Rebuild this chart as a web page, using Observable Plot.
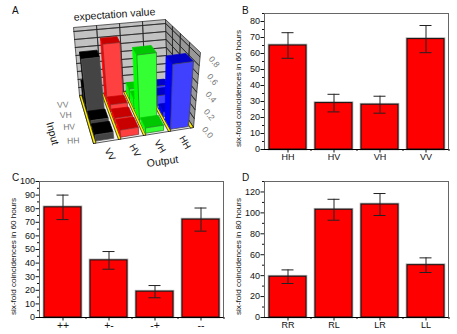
<!DOCTYPE html>
<html><head><meta charset="utf-8">
<script src="https://cdn.jsdelivr.net/npm/d3@7"></script>
<script src="https://cdn.jsdelivr.net/npm/@observablehq/plot@0.6"></script>
<style>
html,body{margin:0;padding:0;background:#fff;width:457px;height:334px;overflow:hidden}
#root{position:relative;width:457px;height:334px}
#root svg{position:absolute;overflow:visible;background:transparent}
.pl{position:absolute;font:10px "Liberation Sans",sans-serif;color:#111}
</style></head><body><div id="root"></div>
<script>
// Bar panels
const basisCats = ["HH","HV","VH","VV"];
const basisVals = [65,29,28,69];
const basisErr = [8,5.5,5.3,8.5];
const diagCats = ["++","+-","-+","--"];
const diagVals = [81,42,19,72];
const diagErr = [9,6.5,4.5,8.5];
const circCats = ["RR","RL","LR","LL"];
const circVals = [39,103,108,50];
const circErr = [6.5,10,10.5,7];
const yLabel60 = "six-fold coincidences in 60 hours";
const yLabel80 = "six-fold coincidences in 80 hours";
// 3D panel
const outputs = ["VV","HV","VH","HH"];
const inputs = ["HH","HV","VH","VV"];
const matrixVV = [0.07,0.07,0.66,0.2];
const matrixHV = [0.08,0.06,0.08,0.7];
const matrixVH = [0.06,0.76,0.12,0.12];
const matrixHH = [0.74,0.05,0.12,0.12];
const zTicks = [0,0.2,0.4,0.6,0.8];
const zGrid = [0.1,0.2,0.3,0.4,0.5,0.6,0.7,0.8];

const root = document.getElementById("root");
const font = '"Liberation Sans",sans-serif';

function barPanel({left,top,h,mt,mb,cats,vals,errs,ymax,major,minor,label,dyLabel,xfont}){
  const rows = cats.map((c,i)=>({c,v:vals[i],lo:vals[i]-errs[i],hi:vals[i]+errs[i]}));
  const majors = d3.range(0,ymax+1e-6,major), minors = d3.range(0,ymax+1e-6,minor).filter(v=>!majors.includes(v));
  const p = Plot.plot({
    width:232,height:h,marginLeft:39,marginRight:9,marginTop:mt,marginBottom:mb,
    style:{fontFamily:font,fontSize:"9px",background:"transparent",color:"#111"},
    x:{domain:cats,paddingInner:0.2,paddingOuter:0.1,axis:null},
    y:{domain:[0,ymax],axis:null},
    marks:[
      Plot.frame({stroke:"#666",strokeWidth:1}),
      Plot.barY(rows,{x:"c",y:"v",fill:"none",stroke:"#aaa",strokeWidth:2.6}),
      Plot.barY(rows,{x:"c",y:"v",fill:"#fe0000",stroke:"#111",strokeWidth:1}),
      Plot.ruleX(rows,{x:"c",y1:"lo",y2:"hi",stroke:"#222",strokeWidth:1}),
      Plot.tickY(rows,{x:"c",y:"lo",stroke:"#222",insetLeft:12.5,insetRight:12.5}),
      Plot.tickY(rows,{x:"c",y:"hi",stroke:"#222",insetLeft:12.5,insetRight:12.5}),
      Plot.axisY({ticks:majors,tickSize:3.5,tickPadding:1,label:null,fontSize:9}),
      Plot.axisY({ticks:minors,tickSize:2,text:null,label:null}),
      Plot.axisX({tickSize:3.5,tickPadding:0.5,label:null,fontSize:xfont}),
      Plot.axisX({tickSize:2,dx:23,text:null,label:null}),
      Plot.ruleX([0],{frameAnchor:"left",stroke:"#000"}),
      Plot.ruleY([0],{stroke:"#000"}),
      Plot.text([label],{frameAnchor:"left",textAnchor:"middle",rotate:-90,dx:-26,dy:dyLabel,fontSize:8.1,fill:"#111"})
    ]
  });
  p.style.left=left+"px"; p.style.top=top+"px";
  root.appendChild(p);
}
barPanel({left:225,top:0,h:165,mt:13,mb:16,cats:basisCats,vals:basisVals,errs:basisErr,ymax:85,major:10,minor:5,label:yLabel60,dyLabel:7,xfont:9});
barPanel({left:0,top:165,h:169,mt:16,mb:17,cats:diagCats,vals:diagVals,errs:diagErr,ymax:100,major:10,minor:5,label:yLabel60,dyLabel:7,xfont:10.5});
barPanel({left:225,top:165,h:169,mt:16,mb:17,cats:circCats,vals:circVals,errs:circErr,ymax:130,major:20,minor:10,label:yLabel80,dyLabel:7,xfont:9});

// projection parameters: pixel frame of the 3D box
const fl0=[93,143],fr0=[193,127],bl0=[79,95],br0=[167,87];
const fl1=[80,68],fr1=[200,52],bl1=[73,27],br1=[165,19];
const zMax=0.85, persp=1.35;
const lerp=(a,b,t)=>[a[0]+(b[0]-a[0])*t,a[1]+(b[1]-a[1])*t];
function proj(u,v,val){
  const vp=v*persp/(1+(persp-1)*v), w=val/zMax;
  const a=lerp(lerp(fl0,fr0,u),lerp(bl0,br0,u),vp);
  const b=lerp(lerp(fl1,fr1,u),lerp(bl1,br1,u),vp);
  return lerp(a,b,w);
}
const polys=[]; let pid=0;
function poly(pts,fill,stroke){
  const id=pid++;
  for(const q of [...pts,pts[0]]){const [x,y]=proj(...q);polys.push({id,x,y,fill,stroke})}
}
// walls
poly([[0,1,0],[1,1,0],[1,1,zMax],[0,1,zMax]],"#c2c2c2","#222");
poly([[1,1,0],[1,0,0],[1,0,zMax],[1,1,zMax]],"#989898","#222");
for(const z of zGrid){
  poly([[0,1,z],[1,1,z]],"none","#222");
  poly([[1,1,z],[1,0,z]],"none","#222");
}
for(const i of [1,2,3]) poly([[i/4,1,0],[i/4,1,zMax]],"none","#222");
for(const j of [1,2,3]) poly([[1,j/4,0],[1,j/4,zMax]],"none","#222");
// floor: pale base with yellow strips along the column boundaries
poly([[0,0,0],[1,0,0],[1,1,0],[0,1,0]],"#f4f4f4","#111");
for(const [a,b] of [[0,.1],[1,1.1],[2,2.1],[3,3.1],[3.88,4]]) poly([[a/4,0,0],[b/4,0,0],[b/4,1,0],[a/4,1,0]],"#ffee00","#111");
// bars
const matrix=[matrixVV,matrixHV,matrixVH,matrixHH];
const cols=[
 {front:"#444444",top:"#000000",side:"#000000",edge:"#555"},
 {front:"#ff4040",top:"#c80000",side:"#ff0000",edge:"#8a2a2a"},
 {front:"#33ff33",top:"#00c800",side:"#00ff00",edge:"#2a7a2a"},
 {front:"#4040ff",top:"#0000c8",side:"#0000ff",edge:"#444"}];
for(let j=3;j>=0;j--) for(let i=3;i>=0;i--){
  const h=matrix[i][j],c=cols[i];
  const u0=(i+.12)/4,u1=(i+.84)/4,v0=(j+.12)/4,v1=(j+.88)/4;
  poly([[u0,v1,0],[u0,v0,0],[u0,v0,h],[u0,v1,h]],c.side,c.side);
  poly([[u0,v0,h],[u1,v0,h],[u1,v1,h],[u0,v1,h]],c.top,c.top);
  poly([[u0,v0,0],[u1,v0,0],[u1,v0,h],[u0,v0,h]],c.front,c.edge);
}
const zLabels=zTicks.map(z=>{const [x,y]=proj(1,0,z);return{t:z.toFixed(1),x:x+14,y:y+5}});
const outLabels=outputs.map((t,i)=>{const [x,y]=proj((i+.5)/4,0,0);return{t,x:x+4,y:y+13}});
const inLabels=inputs.map((t,j)=>{const [x,y]=proj(0,(j+.5)/4,0);return{t,x:x-18,y:y+5}});
const W=230,H=170;
const pA=Plot.plot({
  width:W,height:H,margin:0,
  style:{fontFamily:font,fontSize:"10px",background:"transparent"},
  x:{type:"linear",domain:[0,W],range:[0,W],axis:null},
  y:{type:"linear",domain:[0,H],range:[0,H],axis:null},
  color:{type:"identity"},
  marks:[
    Plot.line(polys,{x:"x",y:"y",z:"id",fill:"fill",stroke:"stroke",strokeWidth:0.7,curve:"linear"}),
    Plot.text(zLabels,{x:"x",y:"y",text:"t",rotate:50,fontSize:8.5,fill:"#777"}),
    Plot.text(outLabels,{x:"x",y:"y",text:"t",rotate:60,fontSize:9.5,fill:"#222"}),
    Plot.text(inLabels,{x:"x",y:"y",text:"t",rotate:-3,fontSize:8.5,fill:"#777"}),
    Plot.text(["Input"],{x:()=>52,y:()=>133,text:d=>d,rotate:75,fontSize:10.5,fill:"#111"}),
    Plot.text(["Output"],{x:()=>162,y:()=>161,text:d=>d,rotate:-8,fontSize:10.5,fill:"#111"}),
    Plot.text(["expectation value"],{x:()=>114,y:()=>14,text:d=>d,rotate:-4,fontSize:10.5,fill:"#111"})
  ]
});
pA.style.left="0px";pA.style.top="0px";root.appendChild(pA);
[["A",12,5],["B",242,5],["C",12,172],["D",242,172]].forEach(([t,l,tp])=>{
  const d=document.createElement("div");d.className="pl";d.textContent=t;d.style.left=l+"px";d.style.top=tp+"px";root.appendChild(d);
});
</script></body></html>
